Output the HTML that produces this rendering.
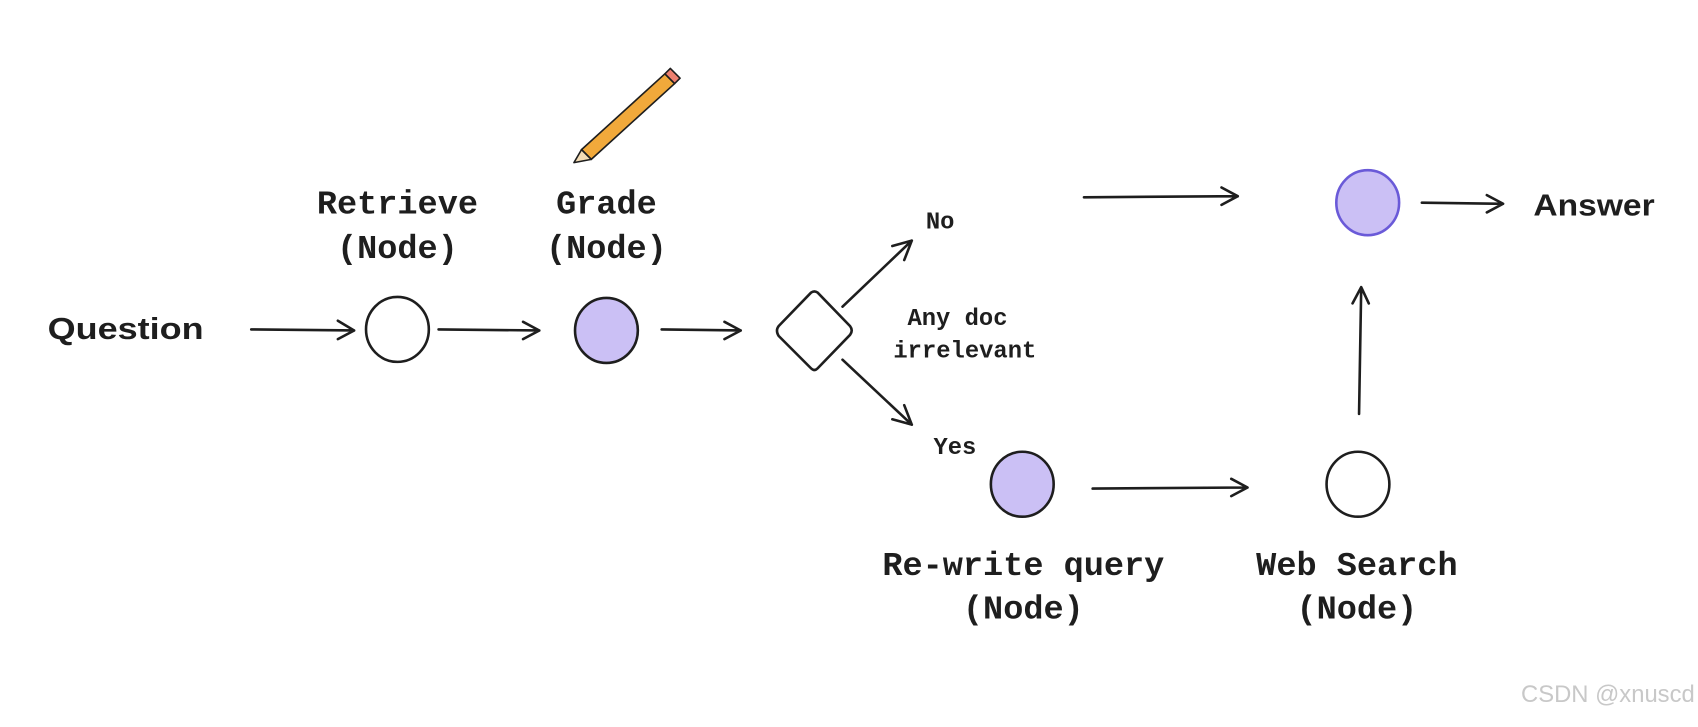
<!DOCTYPE html>
<html><head><meta charset="utf-8"><style>
html,body{margin:0;padding:0;background:#fff;width:1698px;height:727px;overflow:hidden}
svg{display:block}
.m{font-family:"Liberation Mono",monospace;fill:#1e1e1e;font-weight:bold}
.h{font-family:"Liberation Sans",sans-serif;font-weight:bold;fill:#1e1e1e}
</style></head><body>
<svg width="1698" height="727" viewBox="0 0 1568 671" xmlns="http://www.w3.org/2000/svg">
<g stroke="#1e1e1e" stroke-width="2.4" fill="none" stroke-linecap="round" stroke-linejoin="round">
<path d="M232 304 L327 305 M312 296 L327 305 L312 313"/>
<path d="M405 304 L498 305 M483 297 L498 305 L483 313"/>
<path d="M611 304 L684 305 M669 297 L684 305 L669 313"/>
<path d="M778 283 L842 222 M824 227 L842 222 L835 240"/>
<path d="M778 332 L842 392 M835 374 L842 392 L824 387"/>
<path d="M1009 451 L1152 450 M1137 442 L1152 450 L1137 458"/>
<path d="M1255 382 L1257 265 M1249 280 L1257 265 L1264 280"/>
<path d="M1001 182 L1143 181 M1128 173 L1143 181 L1128 189"/>
<path d="M1313 187 L1388 188 M1373 180 L1388 188 L1373 196"/>
<ellipse cx="367" cy="304" rx="29" ry="30" fill="#fff"/>
<ellipse cx="560" cy="305" rx="29" ry="30" fill="#cbc0f5"/>
<ellipse cx="944" cy="447" rx="29" ry="30" fill="#cbc0f5"/>
<ellipse cx="1254" cy="447" rx="29" ry="30" fill="#fff"/>
<ellipse cx="1263" cy="187" rx="29" ry="30" fill="#cbc0f5" stroke="#6a5ad8"/>
<path d="M749 270 Q752 268 755 270 L785 301 Q788 305 785 309 L755 340 Q752 343 749 340 L719 310 Q716 305 719 301 Z" fill="#fff"/>
</g>
<g stroke="#1e1e1e" stroke-width="1.5" stroke-linejoin="round">
<path d="M537 138 L614 68 L623 77 L546 147 Z" fill="#f1a93b"/>
<path d="M537 138 L530 150 L546 147 Z" fill="#f3dcb5"/>
<path d="M614 68 L619 63 L628 72 L623 77 Z" fill="#ee8070"/>
</g>
<text class="h" x="44" y="313" font-size="28" textLength="144" lengthAdjust="spacingAndGlyphs">Question</text>
<text class="h" x="1416" y="199" font-size="28" textLength="112" lengthAdjust="spacingAndGlyphs">Answer</text>
<g class="m" font-size="31" text-anchor="middle">
<text x="367" y="197">Retrieve</text><text x="367" y="238">(Node)</text>
<text x="560" y="197">Grade</text><text x="560" y="238">(Node)</text>
<text x="945" y="531">Re-write query</text><text x="945" y="571">(Node)</text>
<text x="1253" y="531">Web Search</text><text x="1253" y="571">(Node)</text>
</g>
<g class="m" font-size="22">
<text x="855" y="211">No</text>
<text x="838" y="300">Any doc</text>
<text x="825" y="330">irrelevant</text>
<text x="862" y="419">Yes</text>
</g>
<text x="1565" y="648" text-anchor="end" font-family="Liberation Sans,sans-serif" font-size="22" fill="#c8c8c8">CSDN @xnuscd</text>
</svg>
</body></html>
